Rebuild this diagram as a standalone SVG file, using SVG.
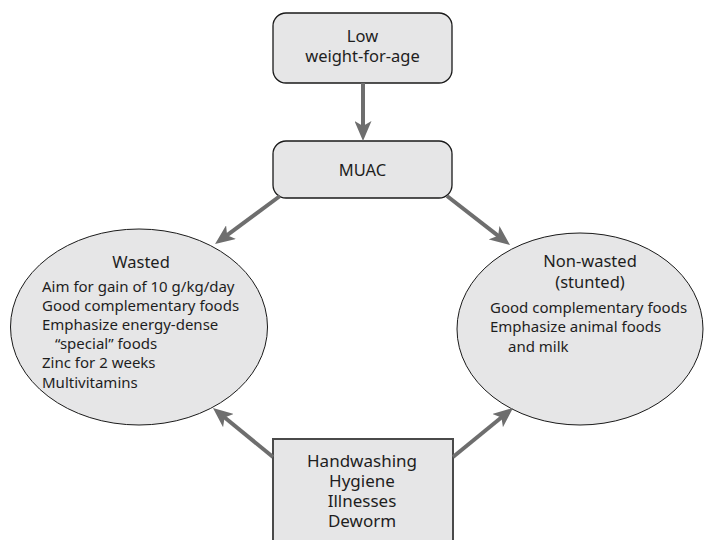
<svg xmlns="http://www.w3.org/2000/svg" width="705" height="540" viewBox="0 0 705 540">
<defs>
<marker id="ah" viewBox="0 0 20 17" refX="10" refY="8.5" markerWidth="20" markerHeight="17" markerUnits="userSpaceOnUse" orient="auto">
<path d="M0,0 L20,8.5 L0,17 L5,8.5 Z" fill="#6e6e6e"/>
</marker>
</defs>
<style>
.box{fill:#e6e6e7;stroke:#1a1a1a;stroke-width:1.3}
.ell{fill:#e6e6e7;stroke:#1a1a1a;stroke-width:1}
.sq{fill:#e6e6e7;stroke:#4a4a4a;stroke-width:2}
.t{font-family:"Noto Sans","Open Sans","Liberation Sans",sans-serif;fill:#1e1e1e}
.h{font-size:16.5px;text-anchor:middle}
.b{font-size:15px}
.c{stroke:#6e6e6e;stroke-width:4;fill:none;marker-end:url(#ah)}
</style>
<rect width="705" height="540" fill="#ffffff"/>
<g id="low-weight">
<rect class="box" x="273" y="13" width="179" height="70" rx="13"/>
<text class="t h"><tspan x="362.5" y="42">Low</tspan><tspan x="362.5" y="62">weight-for-age</tspan></text>
</g>
<g id="muac">
<rect class="box" x="273" y="141" width="179" height="57" rx="13"/>
<text class="t h" x="362.5" y="176">MUAC</text>
</g>
<g id="wasted">
<ellipse class="ell" cx="139" cy="327" rx="128.5" ry="98"/>
<text class="t h" x="141" y="268">Wasted</text>
<text class="t b"><tspan x="42" y="292">Aim for gain of 10 g/kg/day</tspan><tspan x="42" y="311">Good complementary foods</tspan><tspan x="42" y="330">Emphasize energy-dense</tspan><tspan x="55" y="349">“special” foods</tspan><tspan x="42" y="368">Zinc for 2 weeks</tspan><tspan x="42" y="388">Multivitamins</tspan></text>
</g>
<g id="non-wasted">
<ellipse class="ell" cx="580" cy="329" rx="123" ry="96"/>
<text class="t h"><tspan x="590" y="267">Non-wasted</tspan><tspan x="590" y="288">(stunted)</tspan></text>
<text class="t b"><tspan x="490" y="313">Good complementary foods</tspan><tspan x="490" y="332">Emphasize animal foods</tspan><tspan x="508" y="352">and milk</tspan></text>
</g>
<g id="handwashing">
<rect class="sq" x="273" y="439" width="180" height="120"/>
<text class="t h" style="font-size:17px"><tspan x="362" y="467">Handwashing</tspan><tspan x="362" y="487">Hygiene</tspan><tspan x="362" y="507">Illnesses</tspan><tspan x="362" y="527">Deworm</tspan></text>
</g>
<g id="connectors">
<line class="c" x1="363" y1="83" x2="363" y2="131"/>
<line class="c" x1="280" y1="196" x2="223.1" y2="238.1"/>
<line class="c" x1="447" y1="196" x2="502.1" y2="238.8"/>
<line class="c" x1="273" y1="457" x2="220.7" y2="414.3"/>
<line class="c" x1="453" y1="457" x2="505.3" y2="414.3"/>
</g>
</svg>
